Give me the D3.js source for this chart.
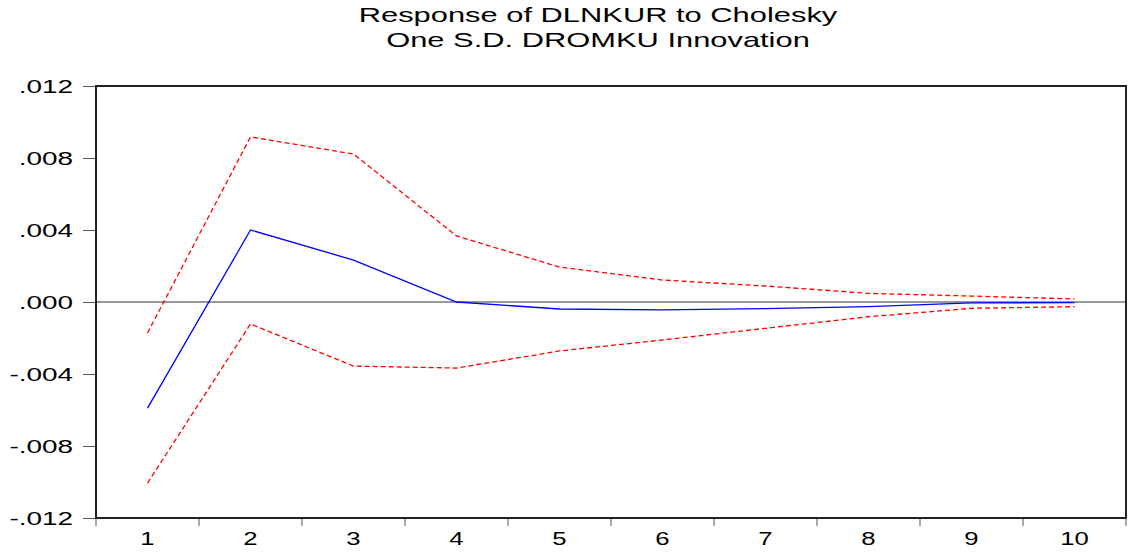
<!DOCTYPE html>
<html>
<head>
<meta charset="utf-8">
<script src="https://cdn.jsdelivr.net/npm/d3@7"></script>
<style>
  body { margin: 0; background: #fff; }
  text { font-family: "Liberation Sans", Arial, sans-serif; fill: #000; }
</style>
</head>
<body>
<div id="chart"></div>
<script>
// periods and series
var periods = [1, 2, 3, 4, 5, 6, 7, 8, 9, 10];
var response = [-0.0059, 0.0040, 0.00233, 0.0, -0.00039, -0.00044, -0.00037, -0.00026, -0.00005, -0.00003];
var upperBand = [-0.00172, 0.00917, 0.00822, 0.00367, 0.00194, 0.00122, 0.00089, 0.00048, 0.00033, 0.00017];
var lowerBand = [-0.01006, -0.00122, -0.00356, -0.00367, -0.00272, -0.00211, -0.00146, -0.00082, -0.00035, -0.00026];
var yTicks = [-0.012, -0.008, -0.004, 0, 0.004, 0.008, 0.012];
var yTickLabels = ["-.012", "-.008", "-.004", ".000", ".004", ".008", ".012"];
var titleLines = ["Response of DLNKUR to Cholesky", "One S.D. DROMKU Innovation"];

function init() {
    var w = 1132, h = 560;
    var left = 96, right = 1126, top = 86, bottom = 518;
    var stretch = 1.47; // the original text is drawn wide

    var svg = d3.select("#chart").append("svg")
        .attr("width", w).attr("height", h);

    // band scale so each period sits in the middle of its slot
    var xScale = d3.scaleBand().domain(periods).range([left, right]);
    var yScale = d3.scaleLinear().domain([-0.012, 0.012]).range([bottom, top]);

    // title
    svg.selectAll("text.title").data(titleLines).enter().append("text")
        .attr("class", "title")
        .attr("transform", function(d, i) {
            return "translate(598," + (22 + i * 25) + ") scale(" + stretch + ",1)";
        })
        .attr("text-anchor", "middle")
        .style("font-size", "21px")
        .text(function(d) { return d; });

    // zero line
    svg.append("line")
        .attr("x1", left).attr("x2", right)
        .attr("y1", yScale(0)).attr("y2", yScale(0))
        .attr("stroke", "#333").attr("stroke-width", 1);

    // y axis
    var yAxis = d3.axisLeft(yScale)
        .tickValues(yTicks)
        .tickSize(13)
        .tickFormat(function(d, i) { return yTickLabels[i]; });
    var gy = svg.append("g")
        .attr("transform", "translate(" + left + ",0)")
        .call(yAxis);
    gy.select(".domain").remove();
    gy.selectAll(".tick line").attr("stroke", "#555");
    gy.selectAll(".tick text")
        .attr("x", -23 / stretch)
        .attr("transform", "scale(" + stretch + ",1)")
        .style("font-size", "19px")
        .style("font-family", "Liberation Sans, Arial, sans-serif");

    // x axis: ticks at slot boundaries, labels at slot centres
    var xAxis = d3.axisBottom(xScale).tickSize(0).tickPadding(15);
    var gx = svg.append("g")
        .attr("transform", "translate(0," + bottom + ")")
        .call(xAxis);
    gx.select(".domain").remove();
    gx.selectAll(".tick text")
        .attr("transform", "scale(" + stretch + ",1)")
        .style("font-size", "17.5px")
        .style("font-family", "Liberation Sans, Arial, sans-serif");
    var bounds = periods.map(function(p) { return xScale(p); }).concat([right]);
    svg.selectAll("line.xtick").data(bounds).enter().append("line")
        .attr("class", "xtick")
        .attr("x1", function(d) { return d; }).attr("x2", function(d) { return d; })
        .attr("y1", bottom).attr("y2", bottom + 8)
        .attr("stroke", "#555");

    // frame
    svg.append("rect")
        .attr("x", left).attr("y", top)
        .attr("width", right - left).attr("height", bottom - top)
        .attr("fill", "none").attr("stroke", "#222").attr("stroke-width", 2);

    var line = d3.line()
        .x(function(d, i) { return xScale(periods[i]) + xScale.bandwidth() / 2; })
        .y(function(d) { return yScale(d); });

    svg.append("path").datum(upperBand)
        .attr("d", line).attr("fill", "none")
        .attr("stroke", "#ff0000").attr("stroke-width", 1.3)
        .attr("stroke-dasharray", "5,3");
    svg.append("path").datum(lowerBand)
        .attr("d", line).attr("fill", "none")
        .attr("stroke", "#ff0000").attr("stroke-width", 1.3)
        .attr("stroke-dasharray", "5,3");
    svg.append("path").datum(response)
        .attr("d", line).attr("fill", "none")
        .attr("stroke", "#0000ff").attr("stroke-width", 1.3);
}

window.onload = init;
</script>
</body>
</html>
